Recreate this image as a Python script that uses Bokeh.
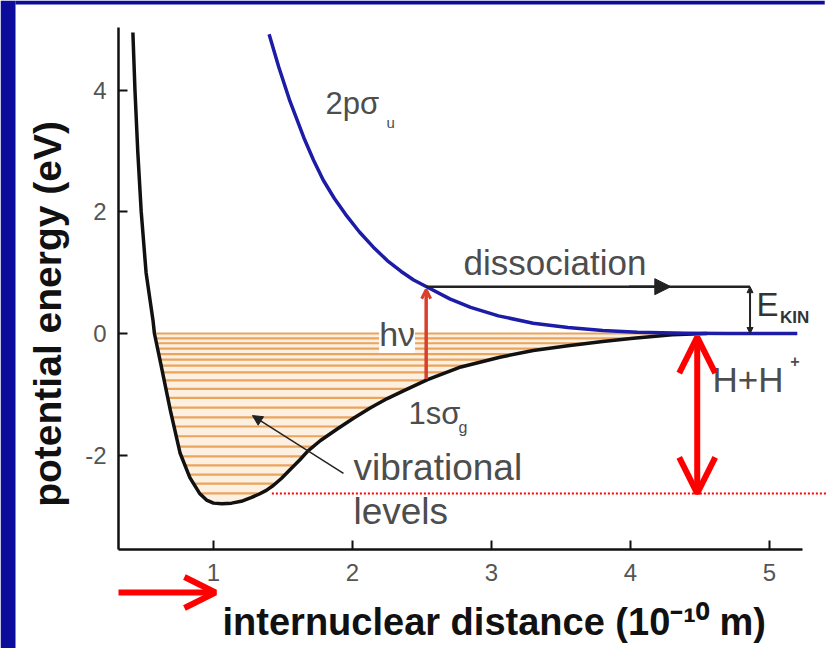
import numpy as np
from math import pi
from bokeh.plotting import figure
from bokeh.models import Range1d, Label, Arrow, OpenHead, NormalHead, FixedTicker
from bokeh.embed import file_html
from bokeh.resources import INLINE

# ---------------- data ----------------
# ground state 1s sigma_g : internuclear distance (1e-10 m) vs energy (eV)
ground_R = [0.42, 0.435, 0.455, 0.48, 0.515, 0.565, 0.575, 0.62, 0.69, 0.76, 0.83, 0.90, 0.95,
            1.00, 1.06, 1.13, 1.20, 1.27, 1.33, 1.38, 1.43, 1.49, 1.55, 1.62, 1.68, 1.77, 1.89,
            2.01, 2.13, 2.25, 2.37, 2.54, 2.78, 3.06, 3.30, 3.55, 3.80, 4.02, 4.30, 4.55]
ground_E = [4.95, 4.00, 3.00, 2.00, 1.00, 0.21, 0.00, -0.49, -1.27, -1.97, -2.37, -2.63, -2.74,
            -2.79, -2.80, -2.79, -2.76, -2.70, -2.64, -2.58, -2.50, -2.38, -2.24, -2.08, -1.93,
            -1.76, -1.57, -1.39, -1.22, -1.07, -0.94, -0.76, -0.55, -0.39, -0.28, -0.20, -0.13,
            -0.08, -0.02, 0.00]

# excited state 2p sigma_u
excited_R = [1.40, 1.47, 1.55, 1.65, 1.72, 1.79, 1.87, 1.95, 2.05, 2.15, 2.25, 2.35, 2.44, 2.54,
             2.70, 2.85, 3.05, 3.30, 3.55, 3.80, 4.05, 4.40, 4.70, 5.20]
excited_E = [4.92, 4.38, 3.82, 3.22, 2.85, 2.52, 2.22, 1.96, 1.67, 1.42, 1.20, 1.02, 0.88, 0.76,
             0.57, 0.43, 0.29, 0.17, 0.10, 0.05, 0.02, 0.005, 0.0, 0.0]

# vibrational levels (eV)
vib_levels = [0.0, -0.08, -0.16, -0.25, -0.34, -0.43, -0.53, -0.64, -0.77, -0.91, -1.06,
              -1.22, -1.38, -1.53, -1.69, -1.86, -2.02, -2.17, -2.32, -2.47, -2.63]

x_ticks = [1, 2, 3, 4, 5]
y_ticks = [-2, 0, 2, 4]

# annotation anchors
R_PHOTON = 2.53          # vertical transition position
E_PHOTON_LOW = -0.75
E_DISS = 0.77            # energy after absorption
R_EKIN = 4.86            # E_kin bracket position
R_DISS_HEAD = 4.29       # arrow head on dissociation line
GROUND_LEVEL = -2.63     # lowest vibrational level
R_BIND = 4.48            # binding-energy double arrow
R_DOT_START = 1.42

# axes extent and whole-canvas extent (data units)
AX_X0, AX_X1 = 0.3165, 5.237
AX_Y0, AX_Y1 = -3.553, 5.033
X_START, X_END = -0.5324, 5.4173
Y_START, Y_END = -5.181, 5.477
R_BLUE = -0.4245          # width of the slide's blue edge
E_BLUE = 5.411

# ---------------- figure ----------------
p = figure(width=827, height=648, x_range=Range1d(X_START, X_END), y_range=Range1d(Y_START, Y_END),
           output_backend="svg", toolbar_location=None,
           min_border_left=0, min_border_right=0, min_border_top=0, min_border_bottom=0)
p.outline_line_color = None
p.grid.visible = False
p.background_fill_color = "white"
p.border_fill_color = "white"

# slide edge (left and top bands)
p.quad(left=[X_START], right=[R_BLUE], bottom=[Y_START], top=[Y_END],
       fill_color="#0b0b9c", line_color=None)
p.quad(left=[R_BLUE], right=[X_END - 0.02], bottom=[E_BLUE], top=[Y_END],
       fill_color="#0b0b9c", line_color=None)

p.xaxis.fixed_location = AX_Y0
p.yaxis.fixed_location = AX_X0
p.xaxis.bounds = (AX_X0, AX_X1)
p.yaxis.bounds = (AX_Y0, AX_Y1)
for ax, ticks in ((p.xaxis, x_ticks), (p.yaxis, y_ticks)):
    ax.ticker = FixedTicker(ticks=ticks)
    ax.axis_line_width = 2.5
    ax.axis_line_color = "#111111"
    ax.major_tick_line_width = 2
    ax.major_tick_line_color = "#111111"
    ax.major_tick_in = 9
    ax.major_tick_out = 0
    ax.minor_tick_line_color = None
    ax.major_label_text_font = "Liberation Sans"
    ax.major_label_text_font_size = "24px"
    ax.major_label_text_color = "#555555"
p.xaxis.major_label_standoff = 14
p.yaxis.major_label_standoff = 12
p.yaxis.major_label_overrides = {-2: "-2"}

# well fill
R_arr = np.array(ground_R)
E_arr = np.array(ground_E)
mask = E_arr <= 0
p.varea(x=R_arr[mask], y1=E_arr[mask], y2=np.zeros(mask.sum()), fill_color="#fdf0e0")

# vibrational level lines (turning points from the curve)
imin = int(np.argmin(E_arr))
left_R, left_E = R_arr[:imin + 1], E_arr[:imin + 1]
right_R, right_E = R_arr[imin:], E_arr[imin:]
lv = np.array(vib_levels)
x0 = np.interp(lv, left_E[::-1], left_R[::-1])
x1 = np.interp(lv, right_E, right_R)
p.segment(x0=x0, y0=lv, x1=x1, y1=lv, line_color="#e9a45e", line_width=2.2)

# curves
p.line(ground_R, ground_E, line_color="#111111", line_width=3.5, line_join="round")
p.line(excited_R, excited_E, line_color="#1c1ca6", line_width=3.5, line_join="round")

# dissociation path
p.line([R_PHOTON, R_EKIN], [E_DISS, E_DISS], line_color="#222222", line_width=2.5)

# red dotted ground-level line
p.line([R_DOT_START, X_END], [GROUND_LEVEL, GROUND_LEVEL], line_color="#ff0000",
       line_width=2, line_dash="2 2")

# arrows
p.add_layout(Arrow(end=NormalHead(size=16, fill_color="#222222", line_color="#222222"),
                   x_start=R_DISS_HEAD - 0.3, y_start=E_DISS, x_end=R_DISS_HEAD, y_end=E_DISS,
                   line_color="#222222", line_width=2.5))
p.add_layout(Arrow(start=NormalHead(size=6, fill_color="#222222", line_color="#222222"),
                   end=NormalHead(size=6, fill_color="#222222", line_color="#222222"),
                   x_start=R_EKIN, y_start=0.0, x_end=R_EKIN, y_end=E_DISS,
                   line_color="#222222", line_width=2))
p.add_layout(Arrow(end=NormalHead(size=10, fill_color="#222222", line_color="#222222"),
                   x_start=1.935, y_start=-2.30, x_end=1.28, y_end=-1.35,
                   line_color="#222222", line_width=1.5))

# text labels
def lab(x, y, text, size, align="left", color="#4d4d4d", style="normal", angle=0, baseline="middle"):
    p.add_layout(Label(x=x, y=y, text=text, text_font="Liberation Sans", text_font_size=size,
                       text_color=color, text_font_style=style, text_align=align,
                       text_baseline=baseline, angle=angle))

lab(1.806, 3.78, "2pσ", "31px")
lab(2.245, 3.47, "u", "15px")
lab(2.799, 1.17, "dissociation", "35px")
p.add_layout(Label(x=2.45, y=-0.01, text="hν", text_font="Liberation Sans", text_font_size="34px",
                   text_color="#4d4d4d", text_align="right", text_baseline="middle",
                   background_fill_color="white"))
lab(2.403, -1.32, "1sσ", "31px")
lab(2.763, -1.55, "g", "16px")
lab(2.007, -2.21, "vibrational", "37px")
lab(2.007, -2.93, "levels", "37px")
lab(4.906, 0.47, "E", "33px", color="#333333")
lab(5.075, 0.255, "KIN", "17px", color="#333333", style="bold")
lab(4.59, -0.75, "H+H", "35px")
lab(5.15, -0.46, "+", "16px", style="bold")

# photon arrow
p.add_layout(Arrow(end=OpenHead(size=9, line_color="#d9402c", line_width=3),
                   x_start=R_PHOTON, y_start=E_PHOTON_LOW, x_end=R_PHOTON, y_end=E_DISS - 0.05,
                   line_color="#d9402c", line_width=3.5))

# red binding-energy double arrow
p.add_layout(Arrow(start=OpenHead(size=36, line_color="#ff0000", line_width=6),
                   end=OpenHead(size=36, line_color="#ff0000", line_width=6),
                   x_start=R_BIND, y_start=GROUND_LEVEL, x_end=R_BIND, y_end=-0.06,
                   line_color="#ff0000", line_width=6))

# red pointer arrow at x tick 1
p.add_layout(Arrow(end=OpenHead(size=31, line_color="#ff0000", line_width=6),
                   x_start=AX_X0, y_start=-4.26, x_end=1.014, y_end=-4.26,
                   line_color="#ff0000", line_width=6))

# axis labels
lab(-0.194, -2.85, "potential energy (eV)", "39px", color="#111111", style="bold", angle=pi / 2)
lab(1.065, -4.753, "internuclear distance (10⁻¹⁰ m)", "38px", color="#111111", style="bold",
    baseline="alphabetic")

open("out.html", "w").write(file_html(p, INLINE))
